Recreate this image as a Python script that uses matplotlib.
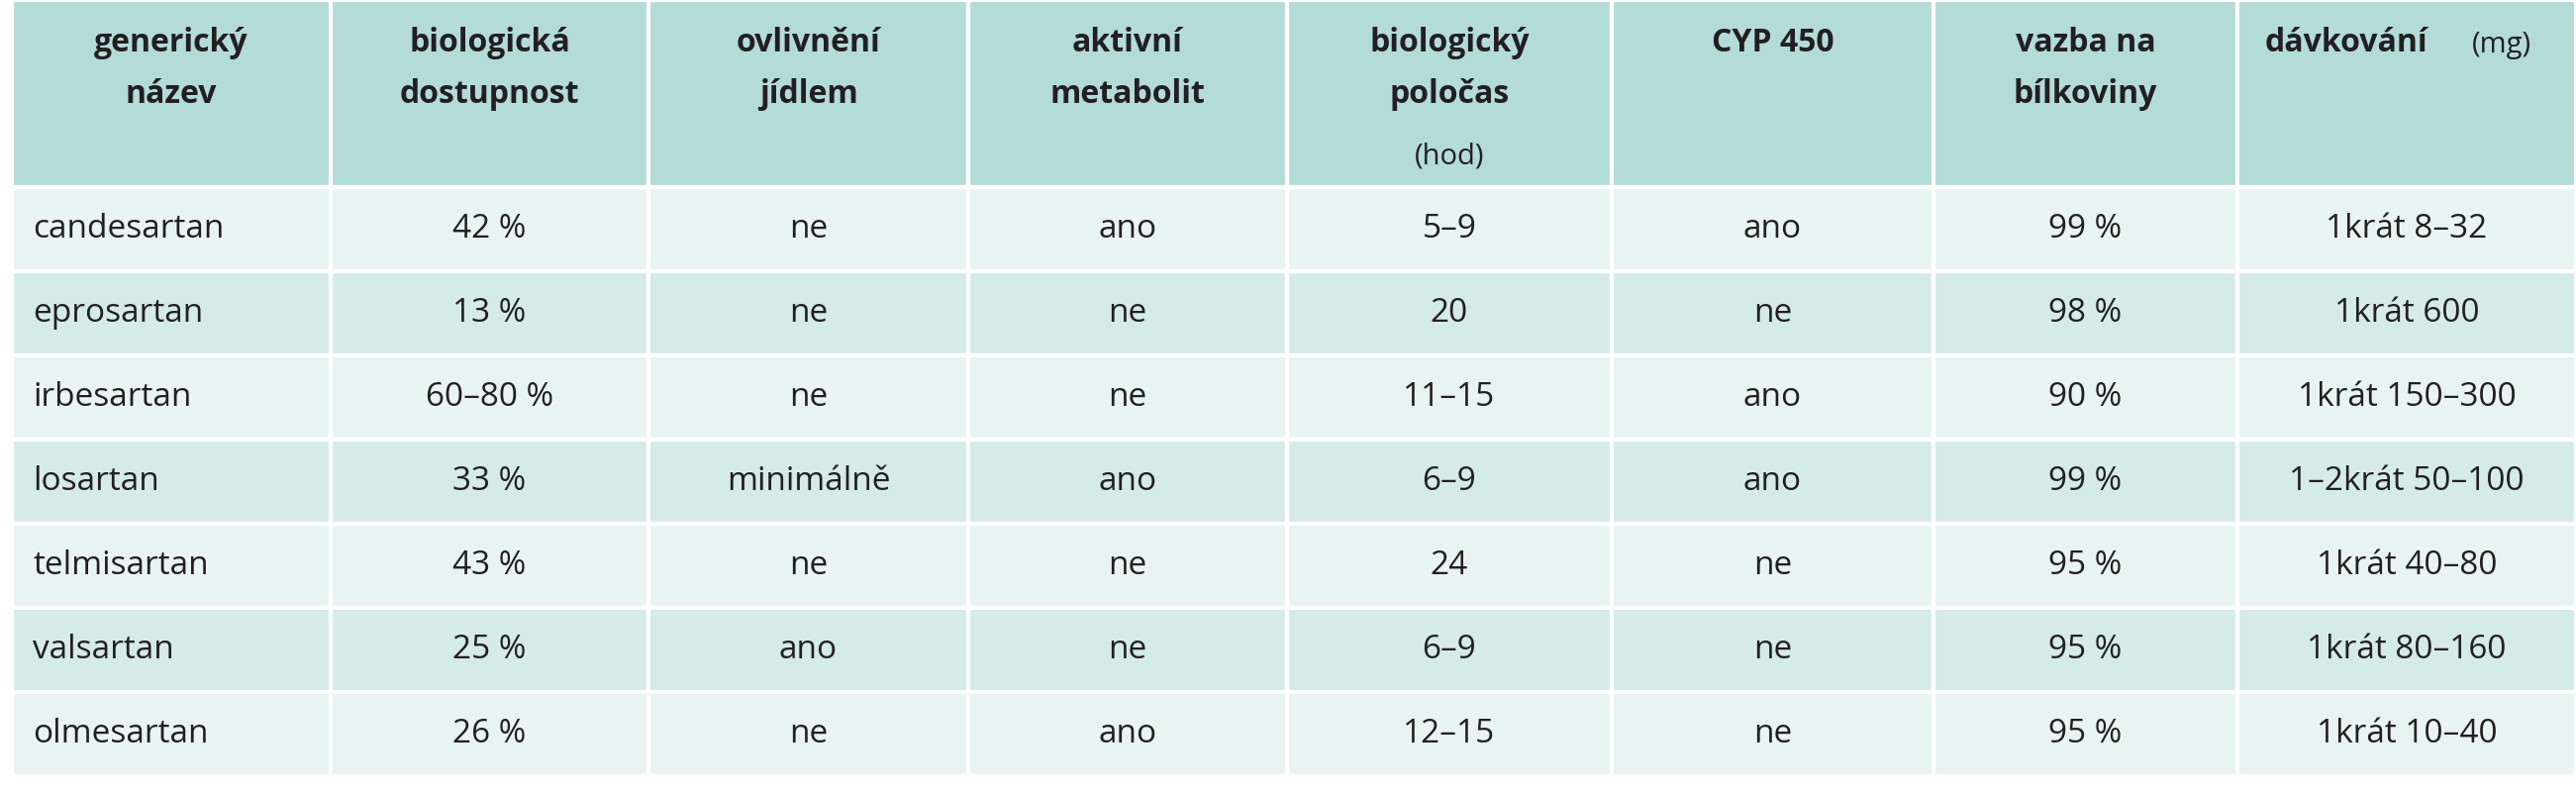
import matplotlib.pyplot as plt
from matplotlib.patches import Rectangle

plt.rcParams['font.family'] = ['Open Sans', 'DejaVu Sans']

headers = [
    ["generický", "název"],
    ["biologická", "dostupnost"],
    ["ovlivnění", "jídlem"],
    ["aktivní", "metabolit"],
    ["biologický", "poločas"],
    ["CYP 450"],
    ["vazba na", "bílkoviny"],
    ["dávkování"],
]
drugs = ["candesartan", "eprosartan", "irbesartan", "losartan",
         "telmisartan", "valsartan", "olmesartan"]
availability = ["42 %", "13 %", "60–80 %", "33 %", "43 %", "25 %", "26 %"]
food = ["ne", "ne", "ne", "minimálně", "ne", "ano", "ne"]
metabolite = ["ano", "ne", "ne", "ano", "ne", "ne", "ano"]
halflife = ["5–9", "20", "11–15", "6–9", "24", "6–9", "12–15"]
cyp = ["ano", "ne", "ano", "ano", "ne", "ne", "ne"]
binding = ["99 %", "98 %", "90 %", "99 %", "95 %", "95 %", "95 %"]
dosing = ["1krát 8–32", "1krát 600", "1krát 150–300", "1–2krát 50–100",
          "1krát 40–80", "1krát 80–160", "1krát 10–40"]

columns = [drugs, availability, food, metabolite, halflife, cyp, binding, dosing]

# layout in pixels
col_edges = [12, 334, 655, 978, 1300, 1628, 1953, 2260, 2602]
header_h = 189
row_h = 85
txt = '#231f20'

fig = plt.figure(figsize=(26.02, 8), dpi=100)
ax = fig.add_axes([0, 0, 1, 1])
ax.set_xlim(0, 2602)
ax.set_ylim(800, 0)
ax.axis('off')

for c in range(len(col_edges) - 1):
    x0, x1 = col_edges[c], col_edges[c + 1]
    ax.add_patch(Rectangle((x0, 0), x1 - x0, header_h, facecolor='#b3dcd9',
                           edgecolor='white', lw=3))
    cx = (x0 + x1) / 2
    for k, line in enumerate(headers[c]):
        hx = cx if c != 7 else 2370
        ax.text(hx, 44 + 51 * k, line, ha='center', va='center',
                fontsize=23, fontweight='bold', color=txt)
    for r in range(len(drugs)):
        y0 = header_h + r * row_h
        fc = '#e8f4f2' if r % 2 == 0 else '#d4ebe7'
        ax.add_patch(Rectangle((x0, y0), x1 - x0, row_h, facecolor=fc,
                               edgecolor='white', lw=3))
        val = columns[c][r]
        if c == 0:
            ax.text(x0 + 21, y0 + row_h / 2, val, ha='left', va='center',
                    fontsize=24, color=txt)
        else:
            ax.text(cx, y0 + row_h / 2, val, ha='center', va='center',
                    fontsize=24, color=txt)

ax.text((col_edges[4] + col_edges[5]) / 2, 158, "(hod)", ha='center', va='center',
        fontsize=21, color=txt)
ax.text(2527, 46, "(mg)", ha='center', va='center', fontsize=21, color=txt)

fig.savefig('out.png', dpi=100, facecolor='white')
